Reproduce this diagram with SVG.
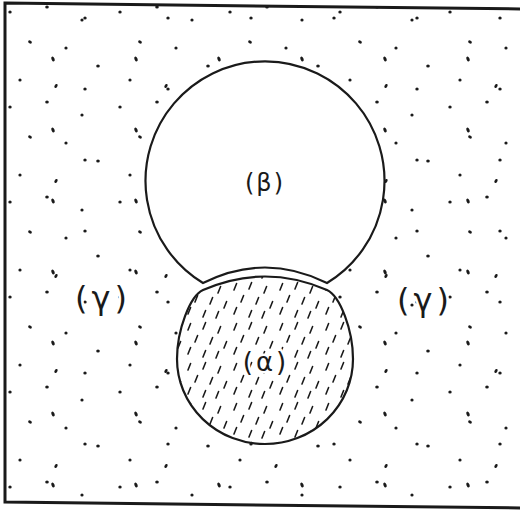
<svg xmlns="http://www.w3.org/2000/svg" width="520" height="510" viewBox="0 0 520 510">
<style>
.ln{fill:none;stroke:#1a1a1a;stroke-width:2.2;stroke-linejoin:miter}
.lbl{font-family:"DejaVu Sans","Liberation Sans",sans-serif;fill:#1a1a1a;text-anchor:middle}
.d{fill:#1a1a1a}
.h{fill:none;stroke:#1a1a1a;stroke-width:1.6;stroke-linecap:round}
</style>
<defs>
<pattern id="dots1" patternUnits="userSpaceOnUse" width="110" height="95">
<ellipse class="d" cx="10" cy="12" rx="1.7" ry="1.5"/>
<ellipse class="d" cx="47" cy="7" rx="1.8" ry="1.5"/>
<ellipse class="d" cx="82" cy="20" rx="1.6" ry="1.6"/>
<ellipse class="d" cx="30" cy="42" rx="2" ry="1.4" transform="rotate(30 30 42)"/>
<ellipse class="d" cx="66" cy="48" rx="1.6" ry="1.5"/>
<ellipse class="d" cx="98" cy="66" rx="1.8" ry="1.5"/>
<ellipse class="d" cx="20" cy="80" rx="1.6" ry="1.6"/>
<ellipse class="d" cx="56" cy="86" rx="2.2" ry="1.4" transform="rotate(-60 56 86)"/>
</pattern>
<pattern id="dots2" patternUnits="userSpaceOnUse" x="13" y="29" width="83" height="71">
<ellipse class="d" cx="40" cy="30" rx="2.6" ry="1.5" transform="rotate(65 40 30)"/>
<ellipse class="d" cx="72" cy="60" rx="1.7" ry="1.5"/>
</pattern>
<pattern id="hatch" patternUnits="userSpaceOnUse" width="46" height="40">
<path class="h" d="M4,10 l2.6,-6.5 M19,9 l2.6,-6.5 M34,13 l2.6,-6.5 M11,22 l2.6,-6.5 M26,24 l2.6,-6.5 M40,28 l2.6,-6.5 M4,34 l2.6,-6.5 M19,37 l2.6,-6.5 M32,38 l2.6,-6.5"/>
</pattern>
</defs>
<rect width="520" height="510" fill="#fff"/>
<g id="gamma">
<path d="M5,3 L523,9 L523,508 L5,502 Z" fill="url(#dots1)"/>
<path d="M5,3 L523,9 L523,508 L5,502 Z" fill="url(#dots2)"/>
</g>
<g id="beta">
<path d="M203,283 A119.5,119.5 0 1 1 327,283 Q265,252 203,283 Z" fill="#fff"/>
<path d="M203,283 Q265,252 327,283 L327,290 Q265,262 203,290 Z" fill="#fff"/>
<path class="ln" d="M203,283 A119.5,119.5 0 1 1 327,283 Q265,252 203,283 Z"/>
</g>
<g id="alpha">
<path d="M177,359 C177,330 190,296 203,290 Q265,263 327,290 C340,296 353,330 353,359 A88,85 0 0 1 177,359 Z" fill="#fff"/>
<path d="M177,359 C177,330 190,296 203,290 Q265,263 327,290 C340,296 353,330 353,359 A88,85 0 0 1 177,359 Z" fill="url(#hatch)"/>
<path class="ln" d="M177,359 C177,330 190,296 203,290 Q265,263 327,290 C340,296 353,330 353,359 A88,85 0 0 1 177,359 Z"/>
</g>
<g id="frame">
<path d="M5,3 L523,9 L523,508 L5,502 Z" fill="none" stroke="#1a1a1a" stroke-width="3"/>
</g>
<g id="labels">
<text class="lbl" x="265" y="191" font-size="24" letter-spacing="2">(β)</text>
<text class="lbl" x="266" y="371" font-size="26" letter-spacing="3" stroke="#fff" stroke-width="5" paint-order="stroke">(α)</text>
<text class="lbl" x="103" y="309" font-size="32" letter-spacing="4" stroke="#fff" stroke-width="5" paint-order="stroke">(γ)</text>
<text class="lbl" x="425" y="311" font-size="32" letter-spacing="4" stroke="#fff" stroke-width="5" paint-order="stroke">(γ)</text>
</g>
</svg>
